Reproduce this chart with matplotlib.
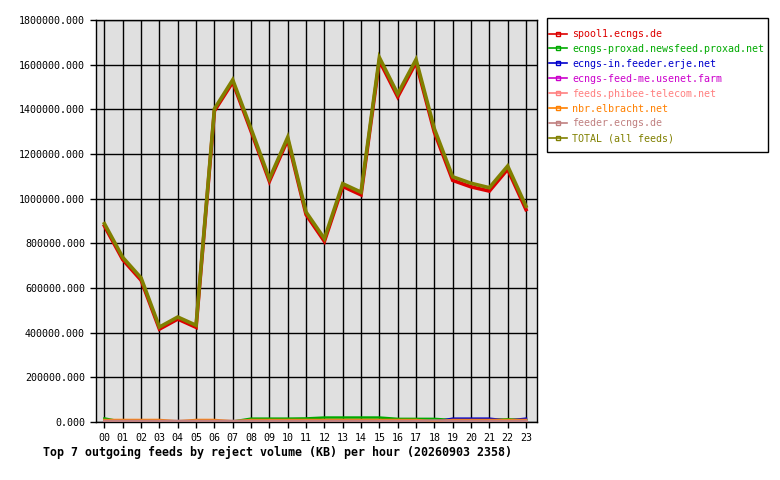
import matplotlib
matplotlib.use('Agg')
import matplotlib.pyplot as plt
from matplotlib.lines import Line2D
from matplotlib.patches import Rectangle
from matplotlib.ticker import MultipleLocator, FormatStrFormatter

hours = ['%02d' % h for h in range(24)]

feed_names = ['spool1.ecngs.de', 'ecngs-proxad.newsfeed.proxad.net',
              'ecngs-in.feeder.erje.net', 'ecngs-feed-me.usenet.farm',
              'feeds.phibee-telecom.net', 'nbr.elbracht.net',
              'feeder.ecngs.de', 'TOTAL (all feeds)']
feed_colors = ['#dd0000', '#00aa00', '#0000cc', '#cc00cc',
               '#ff8080', '#ff8000', '#c08080', '#808000']

spool1 = [878000, 727000, 635000, 416000, 461000, 424000, 1393000, 1522000,
          1302000, 1078000, 1264000, 929000, 809000, 1055000, 1017000, 1618000,
          1456000, 1610000, 1298000, 1082000, 1053000, 1034000, 1132000, 951000]
proxad = [16000, 0, 0, 0, 0, 0, 0, 2000, 15000, 15000, 15000, 16000,
          20000, 20000, 20000, 20000, 14000, 14000, 14000, 9000, 9000, 9000, 12000, 9000]
erje = [0, 0, 0, 0, 0, 0, 0, 0, 0, 0, 0, 0,
        0, 0, 0, 0, 0, 0, 0, 15000, 15000, 15000, 6000, 15000]
usenet_farm = [0] * 24
phibee = [1000] * 24
elbracht = [9000, 9000, 9000, 9000, 3000, 9000, 9000, 3000, 9000, 9000, 9000, 9000,
            9000, 9000, 9000, 9000, 9000, 9000, 3000, 9000, 9000, 9000, 9000, 9000]
feeder_ecngs = [5000, 5000, 5000, 5000, 5000, 5000, 5000, 5000, 5000, 5000, 5000, 5000,
                5000, 5000, 5000, 5000, 5000, 5000, 7000, 5000, 5000, 5000, 5000, 5000]
total = [888000, 737000, 645000, 425000, 470000, 433000, 1402000, 1532000,
         1313000, 1089000, 1275000, 940000, 821000, 1067000, 1029000, 1632000,
         1469000, 1623000, 1313000, 1098000, 1069000, 1049000, 1146000, 966000]

series = [spool1, proxad, erje, usenet_farm, phibee, elbracht, feeder_ecngs, total]

plt.rcParams['font.family'] = 'DejaVu Sans Mono'
plt.rcParams['font.size'] = 7.2

fig = plt.figure(figsize=(7.8, 4.8), dpi=100)
ax = fig.add_axes([96 / 780, 58 / 480, 441 / 780, 402 / 480])
ax.set_facecolor('#e0e0e0')

x = list(range(24))
for vals, col in zip(series, feed_colors):
    lw = 2.6 if vals is spool1 or vals is total else 1.8
    ax.plot(x, vals, color=col, lw=lw, solid_joinstyle='miter', zorder=3)

ax.set_xlim(-0.46, 23.6)
ax.set_ylim(0, 1800000)
ax.set_xticks(x)
ax.set_xticklabels(hours)
ax.yaxis.set_major_locator(MultipleLocator(200000))
ax.yaxis.set_major_formatter(FormatStrFormatter('%.3f'))
ax.grid(True, color='black', lw=1)
ax.set_axisbelow(True)
ax.tick_params(length=4, width=1, color='black', pad=4)
for s in ax.spines.values():
    s.set_color('black')
    s.set_linewidth(1)

fig.text(43 / 780, 1 - 452 / 480, 'Top 7 outgoing feeds by reject volume (KB) per hour (20260903 2358)',
         fontsize=8.4, fontweight='bold', ha='left', va='center')

# legend box drawn by hand, padding differs horizontally and vertically
fig.patches.append(Rectangle((547 / 780, 1 - 152 / 480), 221 / 780, 134 / 480,
                             transform=fig.transFigure, facecolor='white',
                             edgecolor='black', lw=1, zorder=0))
handles = [Line2D([], [], color=c, lw=1.2, marker='s', ms=3, mfc='none', mec=c)
           for c in feed_colors]
leg = fig.legend(handles, feed_names, loc='upper left',
                 bbox_to_anchor=(549 / 780, 1 - 29 / 480), borderaxespad=0,
                 frameon=False, handlelength=1.8, handletextpad=0.5,
                 labelspacing=0.49, borderpad=0)
for txt, c in zip(leg.get_texts(), feed_colors):
    txt.set_color(c)

fig.savefig('out.png', dpi=100)
